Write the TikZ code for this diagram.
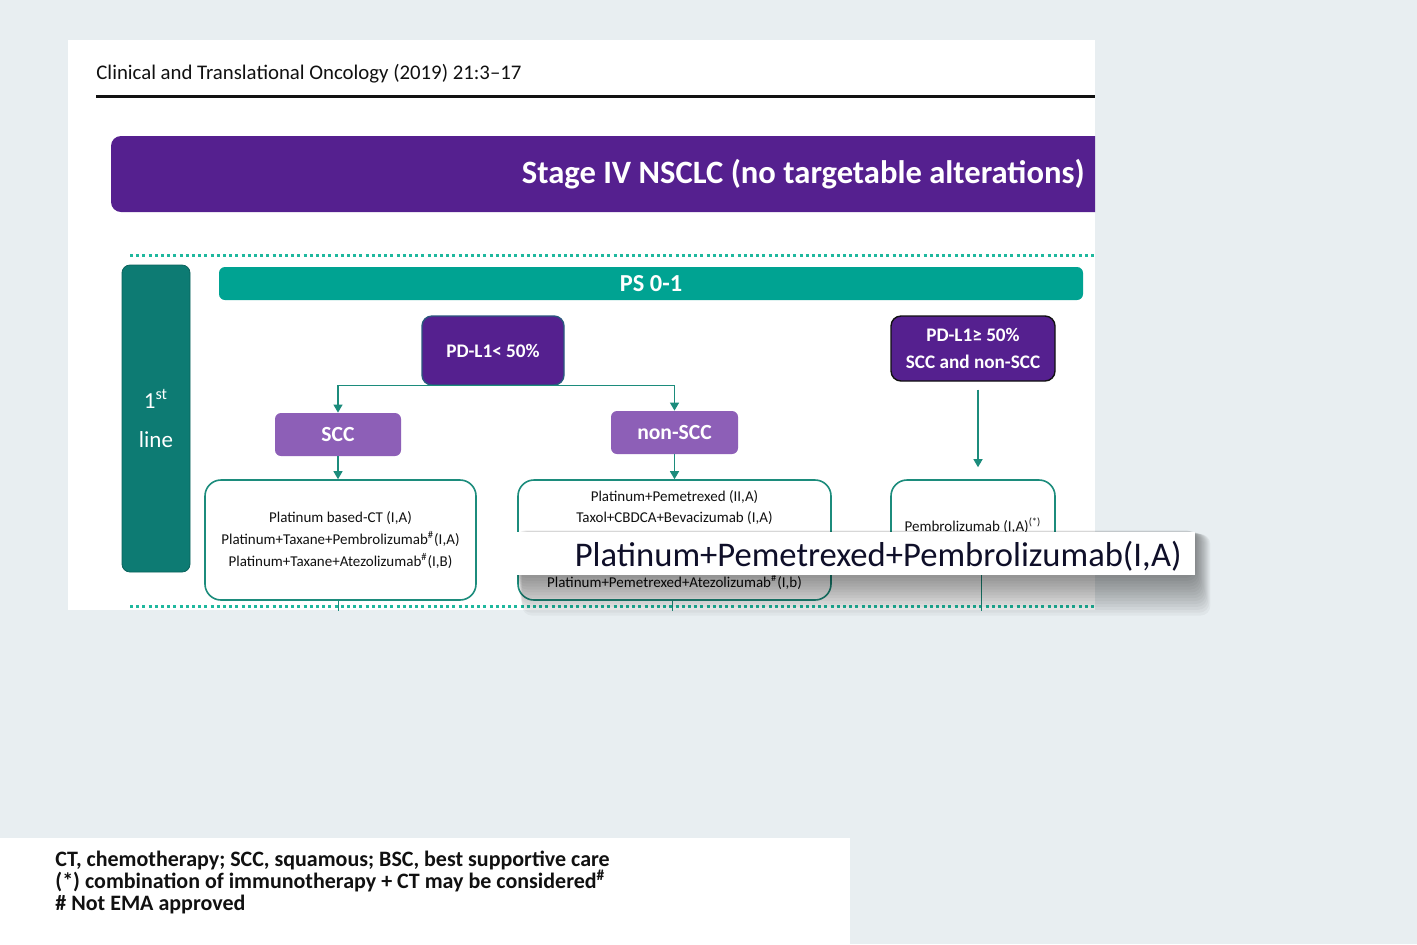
\documentclass[tikz,border=0pt]{standalone}
\usepackage{fontspec}
\setmainfont{Carlito}
\usepackage{tikz}
\usetikzlibrary{arrows.meta,positioning,calc}
\definecolor{pagebg}{HTML}{E8EEF1}
\definecolor{deeppurple}{HTML}{55208F}
\definecolor{softpurple}{HTML}{8D5FB7}
\definecolor{barteal}{HTML}{00A392}
\definecolor{darkteal}{HTML}{0D7B73}
\definecolor{lineteal}{HTML}{1C8C7C}
\definecolor{dotteal}{HTML}{1FB89E}
\definecolor{ink}{HTML}{111111}
\tikzset{
  banner/.style={fill=deeppurple, rounded corners=5pt, inner sep=0pt},
  linebox/.style={fill=darkteal, draw=darkteal!80!black, rounded corners=4pt, text=white, align=center,
                  font=\fontsize{11.5}{19.5}\selectfont},
  psbar/.style={fill=barteal, rounded corners=3pt, text=white, font=\fontsize{12.2}{14}\selectfont\bfseries},
  pdbox/.style={fill=deeppurple, rounded corners=5pt, text=white, align=center, line width=0.7pt,
                font=\fontsize{9.6}{13.5}\selectfont\bfseries},
  histo/.style={fill=softpurple, rounded corners=3pt, text=white, font=\fontsize{10.8}{13}\selectfont\bfseries},
  rxbox/.style={draw=lineteal, line width=0.8pt, fill=white, rounded corners=8pt, align=center,
                font=\fontsize{7.5}{10.8}\selectfont, text=ink},
  arr/.style={-{Triangle[length=4pt,width=4.5pt]}, draw=lineteal, line width=0.6pt},
  tick/.style={draw=lineteal, line width=0.5pt},
  dotline/.style={draw=dotteal, line width=1.5pt, dash pattern=on 1.5pt off 1.6pt},
  note/.style={font=\fontsize{11}{11}\selectfont\bfseries, text=ink, align=left},
}

\begin{document}
\begin{tikzpicture}[x=0.5pt, y=-0.5pt]
  \useasboundingbox (0,0) rectangle (1417,944);
  \fill[pagebg] (0,0) rectangle (1417,944);
  \fill[white] (68,40) rectangle (1095,610);
  \fill[white] (0,838) rectangle (850,944);

  \begin{scope}
    \clip (68,40) rectangle (1095,610);
    \node[anchor=base west, inner sep=0pt, font=\fontsize{10.4}{12}\selectfont, text=ink] (journal) at (96,79)
      {Clinical and Translational Oncology (2019) 21:3--17};
    \draw[ink, line width=1.5pt] (96,96) -- (1095,96);

    % title banner, cut at the right edge
    \node[banner, minimum width=505pt, minimum height=38pt] (stage) at (616,174) {};
    \node[anchor=east, inner sep=0pt, text=white, font=\fontsize{16.3}{18}\selectfont\bfseries] (stagetxt) at (1085,174)
      {Stage IV NSCLC (no targetable alterations)};

    \draw[dotline] (130,255) -- (1095,255);
    \draw[dotline] (130,606) -- (1095,606);

    \node[linebox, minimum width=34pt, minimum height=153.5pt] (first) at (156,418.5) {1\textsuperscript{st}\\line};
    \node[psbar, minimum width=432pt, minimum height=16.5pt] (ps) at (651,283.5) {PS 0-1};

    \node[pdbox, draw=darkteal!60!deeppurple, minimum width=71pt, minimum height=34.5pt] (pdlow) at (493,350.5) {PD-L1< 50\%};
    \node[pdbox, draw=ink, minimum width=82pt, minimum height=32.5pt] (pdhigh) at (973,348.5) {PD-L1≥ 50\%\\SCC and non-SCC};

    \node[histo, minimum width=63pt, minimum height=21.5pt] (scc) at (338,434.5) {SCC};
    \node[histo, minimum width=63.5pt, minimum height=21.5pt] (nonscc) at (674.5,432.5) {non-SCC};

    \node[rxbox, minimum width=135.5pt, minimum height=60pt] (rxscc) at (340.5,540)
      {Platinum based-CT (I,A)\\
       Platinum+Taxane+Pembrolizumab\textsuperscript{\#}(I,A)\\
       Platinum+Taxane+Atezolizumab\textsuperscript{\#}(I,B)};
    \node[rxbox, minimum width=156.5pt, minimum height=60pt] (rxnon) at (674.5,540)
      {Platinum+Pemetrexed (II,A)\\
       Taxol+CBDCA+Bevacizumab (I,A)\\ \strut\\ \strut\\
       Platinum+Pemetrexed+Atezolizumab\textsuperscript{\#}(I,b)};
    \node[rxbox, minimum width=82pt, minimum height=45pt] (rxhigh) at (973,525) {};
    \node[font=\fontsize{7.5}{9}\selectfont, text=ink] (pembro) at (973,526) {Pembrolizumab (I,A)\textsuperscript{(*)}};

    \draw[arr] (pdlow.south) -| (scc.north);
    \draw[arr] (pdlow.south) -| (nonscc.north);
    \draw[arr] (scc.south) -- (scc.south |- rxscc.north);
    \draw[arr] (nonscc.south) -- (rxnon.north);
    \draw[arr] ([xshift=2.5pt,yshift=-4pt]pdhigh.south) -- ([xshift=2.5pt,yshift=6pt]rxhigh.north);

    \coordinate (endscc) at (338,615);
    \coordinate (endnon) at (672,615);
    \coordinate (endhigh) at (981,615);
    \draw[tick] (rxscc.south -| endscc) -- (endscc);
    \draw[tick] (rxnon.south -| endnon) -- (endnon);
    \draw[tick] (rxhigh.south -| endhigh) -- (endhigh);
  \end{scope}

  % magnified callout
  \foreach \k in {1,...,14} {
    \fill[black, opacity=0.035, rounded corners=5pt] (515+\k*0.5,530+\k*0.3) rectangle (1195+\k*1.1,575+\k*2.9);
  }
  \node[fill=white, inner sep=0pt, minimum width=340pt, minimum height=21.5pt] (zoombox) at (855,553.5) {};
  \node[anchor=east, inner sep=0pt, font=\fontsize{17.3}{19}\selectfont, text=ink!90!blue] (zoomtxt) at (1182,556)
    {Platinum+Pemetrexed+Pembrolizumab(I,A)};

  \node[note, anchor=north west, inner sep=0pt] (legend) at (55,851)
    {CT, chemotherapy; SCC, squamous; BSC, best supportive care\\
     (*) combination of immunotherapy + CT may be considered\textsuperscript{\#}\\
     \# Not EMA approved};
\end{tikzpicture}
\end{document}
